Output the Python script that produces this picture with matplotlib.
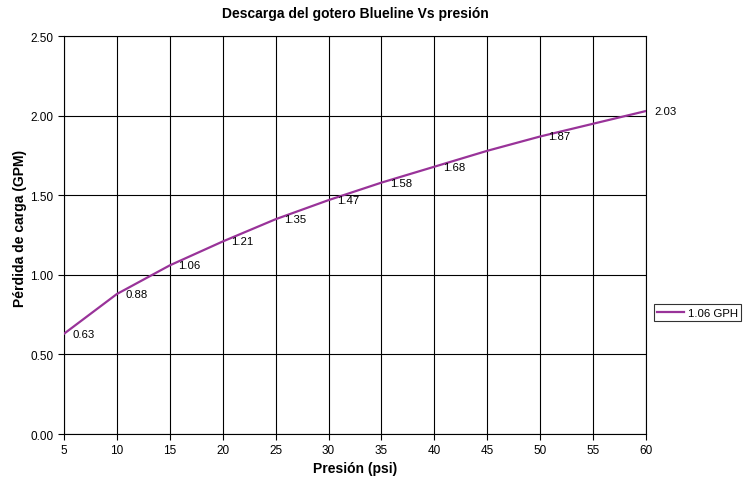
import matplotlib.pyplot as plt

# Data
presion = [5, 10, 15, 20, 25, 30, 35, 40, 45, 50, 55, 60]
descarga = [0.63, 0.88, 1.06, 1.21, 1.35, 1.47, 1.58, 1.68, 1.78, 1.87, 1.95, 2.03]
etiquetas = {5: "0.63", 10: "0.88", 15: "1.06", 20: "1.21", 25: "1.35", 30: "1.47",
             35: "1.58", 40: "1.68", 50: "1.87", 60: "2.03"}
serie = "1.06 GPH"

plt.rcParams["font.family"] = ["Liberation Sans", "DejaVu Sans"]

fig = plt.figure(figsize=(7.51, 4.81), dpi=100)
ax = fig.add_axes([0.0852, 0.0956, 0.775, 0.827])

ax.plot(presion, descarga, color="#993399", lw=1.6, label=serie, zorder=3)

# data labels to the right of each point
for x, y in zip(presion, descarga):
    if x in etiquetas:
        ax.annotate(etiquetas[x], (x, y), xytext=(6, 0), textcoords="offset points",
                    ha="left", va="center", fontsize=8.2, zorder=4)

ax.set_xlim(5, 60)
ax.set_ylim(0, 2.5)
ax.set_xticks(range(5, 61, 5))
ax.set_yticks([0, 0.5, 1.0, 1.5, 2.0, 2.5])
ax.set_yticklabels([f"{v:.2f}" for v in [0, 0.5, 1.0, 1.5, 2.0, 2.5]])
ax.tick_params(labelsize=8.5, length=4, width=0.8, color="black")
ax.grid(True, color="black", lw=0.8)
ax.set_axisbelow(True)
for s in ax.spines.values():
    s.set_color("black")
    s.set_linewidth(0.8)

ax.set_title("Descarga del gotero Blueline Vs presión", fontsize=10, fontweight="bold", pad=14)
ax.set_xlabel("Presión (psi)", fontsize=10, fontweight="bold", labelpad=3)
ax.set_ylabel("Pérdida de carga (GPM)", fontsize=10, fontweight="bold")
ax.yaxis.set_label_coords(-0.064, 0.52)

leg = ax.legend(loc="center left", bbox_to_anchor=(1.013, 0.305), fontsize=8.2,
                frameon=True, fancybox=False, borderaxespad=0, handlelength=2.4,
                borderpad=0.3, handletextpad=0.3)
leg.get_frame().set_edgecolor("black")
leg.get_frame().set_linewidth(0.8)

fig.savefig("out.png", dpi=100)
